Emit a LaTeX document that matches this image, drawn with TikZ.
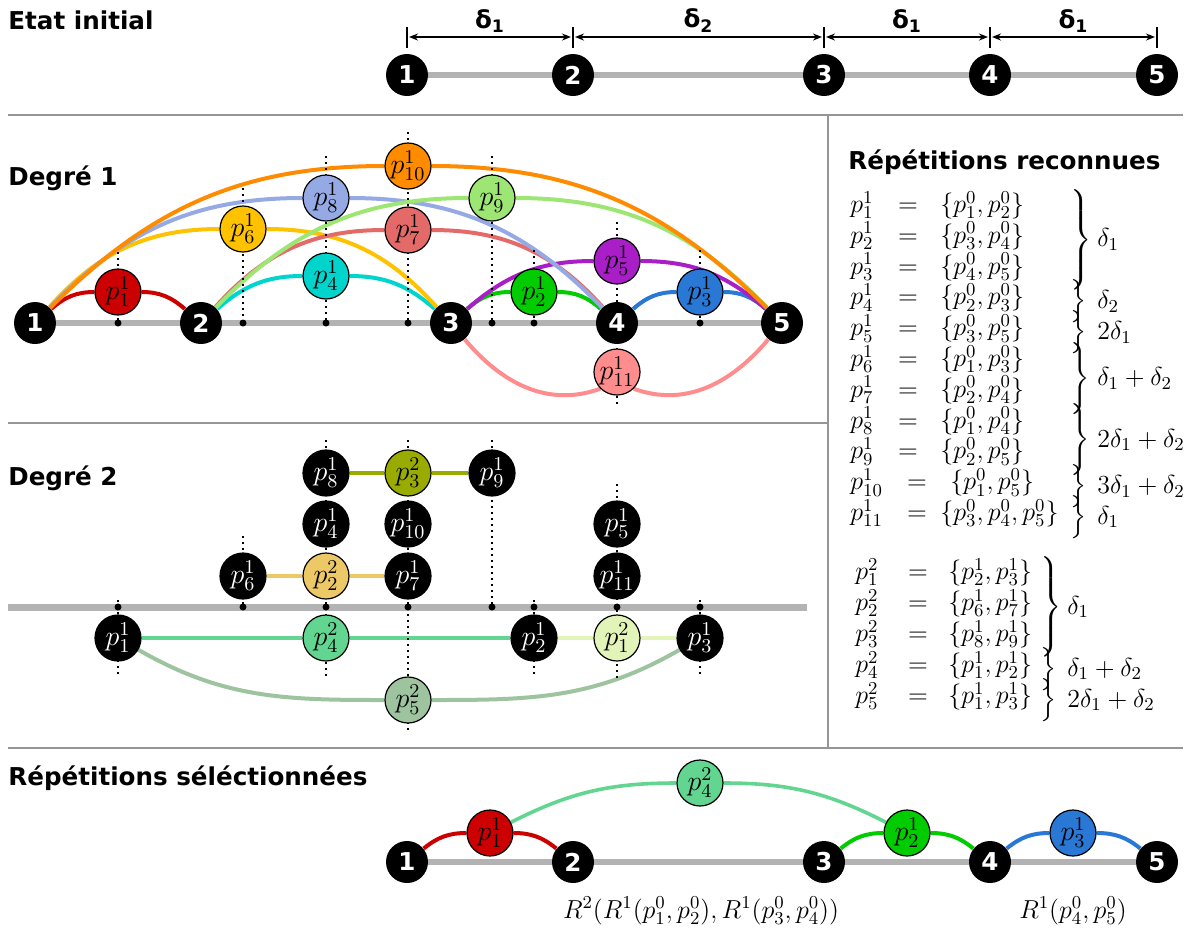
\RequirePackage{fix-cm}
\documentclass[tikz,border=0pt]{standalone}
\usepackage{amsmath}
\usepackage{fontspec}
\newfontfamily\dejavu{DejaVu Sans}
\usetikzlibrary{arrows.meta}

\pgfdeclarelayer{back}
\pgfsetlayers{back,main}

% colours of the degree-1 repetitions
\definecolor{rep1}{RGB}{204,0,0}
\definecolor{rep2}{RGB}{0,204,0}
\definecolor{rep3}{RGB}{42,120,214}
\definecolor{rep4}{RGB}{0,212,204}
\definecolor{rep5}{RGB}{170,30,200}
\definecolor{rep6}{RGB}{255,194,0}
\definecolor{rep7}{RGB}{228,106,106}
\definecolor{rep8}{RGB}{149,170,229}
\definecolor{rep9}{RGB}{157,230,115}
\definecolor{rep10}{RGB}{255,139,0}
\definecolor{rep11}{RGB}{255,141,141}
% colours of the degree-2 repetitions
\definecolor{sec1}{RGB}{227,244,185}
\definecolor{sec2}{RGB}{237,200,103}
\definecolor{sec3}{RGB}{154,171,0}
\definecolor{sec4}{RGB}{98,214,144}
\definecolor{sec5}{RGB}{157,195,159}
\definecolor{axisgray}{RGB}{179,179,179}
\definecolor{sepgray}{RGB}{150,150,150}

\delimiterfactor=1000
\delimitershortfall=0pt
\newcommand{\repbrace}[1]{$\left.\vrule height\dimexpr#1pt+3.25pt\relax depth\dimexpr#1pt-3.25pt\relax width0pt\right\}$}

\tikzset{
  base/.style={circle, fill=black, minimum size=21pt, inner sep=0pt, text=white,
    font=\dejavu\bfseries\fontsize{12.3}{14}\selectfont},
  rep/.style={circle, draw=black, line width=0.6pt, minimum size=23pt, inner sep=0pt,
    font=\fontsize{14}{16}\selectfont},
  blackrep/.style={rep, fill=black, text=white},
  title/.style={anchor=west, inner sep=0pt, font=\dejavu\bfseries\fontsize{12.3}{14}\selectfont},
  axis/.style={draw=axisgray, line width=3pt},
  arc/.style={line width=2pt},
  link/.style={line width=2pt},
  guide/.style={line width=1pt, dash pattern=on 1pt off 2pt},
  sep/.style={draw=sepgray, line width=0.8pt},
  dimline/.style={line width=0.8pt},
  dimarrow/.style={line width=0.8pt, {Stealth[length=4.5pt,width=3.5pt]}-{Stealth[length=4.5pt,width=3.5pt]},
    shorten <=1pt, shorten >=1pt},
  dimlabel/.style={above=2pt, inner sep=0pt, font=\dejavu\bfseries\fontsize{12.3}{14}\selectfont},
  eq/.style={anchor=base west, inner sep=0pt, font=\fontsize{13}{15}\selectfont},
  bracenode/.style={anchor=west, inner sep=0pt, font=\fontsize{13}{15}\selectfont},
  eqlabel/.style={anchor=west, inner sep=0pt, font=\fontsize{13}{15}\selectfont},
}

\begin{document}
\begin{tikzpicture}[x=0.5pt, y=0.5pt]
\useasboundingbox (0,0) rectangle (1191,-934);

% --- separators ---
\draw[sep] (8,-115) -- (1183,-115);
\draw[sep] (8,-748) -- (1183,-748);
\draw[sep] (8,-423) -- (828,-423);
\draw[sep] (828,-115) -- (828,-748);

% --- Etat initial ---
\node[title] (tInit) at (8,-20) {Etat initial};
\foreach \n/\x in {1/407,2/573,3/824,4/990,5/1157} {
  \node[base] (i\n) at (\x,-75) {\n};
  \coordinate (tt\n) at (\x,-27);
  \coordinate (tb\n) at (\x,-48);
  \coordinate (d\n) at (\x,-37);
  \draw[dimline] (tt\n) -- (tb\n);
}
\foreach \a/\b/\s in {1/2/1,2/3/2,3/4/1,4/5/1}
  \draw[dimarrow] (d\a) -- node[dimlabel] (lab\a) {δ\textsubscript{\s}} (d\b);
\begin{pgfonlayer}{back}
  \draw[axis] (i1) -- (i5);
\end{pgfonlayer}

% --- Degre 1 ---
\node[title] (tDeg1) at (8,-178) {Degré 1};
\foreach \n/\x in {1/35,2/201,3/451,4/617,5/782}
  \node[base] (a\n) at (\x,-323) {\n};
\foreach \r/\x/\y in {1/118/292,2/534/292,3/700/292,4/326/276,5/617/261,6/243/229,
    7/408/230,8/326/198,9/492/198,10/408/166,11/617/372}
  \node[rep, fill=rep\r] (r\r) at (\x,-\y) {$p_{\r}^1$};

\begin{pgfonlayer}{back}
  \draw[axis] (a1) -- (a5);
  \foreach \r/\a/\b/\ang in {1/1/2/41,2/3/4/41,3/4/5/41,4/2/3/41,5/3/5/41,
      6/1/3/48,7/2/4/48,8/1/4/46,9/2/5/46,10/1/5/45} {
    \pgfmathtruncatemacro{\angin}{180-\ang}
    \draw[arc, color=rep\r] (a\a) to[out=\ang, in=180] (r\r) to[out=0, in=\angin] (a\b);
  }
  \draw[arc, color=rep11] (a3) to[out=-50, in=200] (r11.225);
  \draw[arc, color=rep11] (r11.-45) to[out=-20, in=230] (a5);
  % dotted guides
  \foreach \x/\t/\b in {118/252/323,243/188/323,326/156/323,408/132/323,
      492/156/323,534/250/323,617/222/407,700/250/323}
    \draw[guide] (\x,-\t) -- (\x,-\b);
  \foreach \x in {118,243,326,408,492,534,700}
    \fill (\x,-323) circle (1.75pt);
\end{pgfonlayer}

% --- Repetitions reconnues ---
\node[title] (tRec) at (848,-162) {Répétitions reconnues};
\foreach \i/\a/\b in {1/1/2,2/3/4,3/4/5,4/2/3,5/3/5,6/1/3,7/2/4,8/1/4,9/2/5} {
  \pgfmathsetmacro{\yb}{-(212.5+30.8*(\i-1))}
  \node[eq] (lhsA\i) at (850,\yb) {$p_{\i}^1$};
  \node[eq, anchor=base] (eqA\i) at (908,\yb) {$=$};
  \node[eq] (setA\i) at (940,\yb) {$\{p_{\a}^0,p_{\b}^0\}$};
}
\node[eq] (lhsA10) at (850,-489.7) {$p_{10}^1$};
\node[eq, anchor=base] (eqA10) at (917,-489.7) {$=$};
\node[eq] (setA10) at (950,-489.7) {$\{p_1^0,p_5^0\}$};
\node[eq] (lhsA11) at (850,-520.5) {$p_{11}^1$};
\node[eq, anchor=base] (eqA11) at (917,-520.5) {$=$};
\node[eq] (setA11) at (940,-520.5) {$\{p_3^0,p_4^0,p_5^0\}$};
\foreach \k/\ym/\h in {1/239.8/23.1,2/301.4/7.7,3/332.2/7.7,4/378.4/15.4,
    5/440/15.4,6/486.2/7.7,7/517/7.7}
  \node[bracenode] (brA\k) at (1068,-\ym) {\repbrace{\h}};
\foreach \k/\ym/\lab in {1/239.8/{\delta_1},2/301.4/{\delta_2},3/332.2/{2\delta_1},
    4/378.4/{\delta_1+\delta_2},5/440/{2\delta_1+\delta_2},6/486.2/{3\delta_1+\delta_2},7/517/{\delta_1}}
  \node[eqlabel] (labA\k) at (1097,-\ym) {$\lab$};

\foreach \i/\a/\b in {1/2/3,2/6/7,3/8/9,4/1/2,5/1/3} {
  \pgfmathsetmacro{\yb}{-(579.5+31*(\i-1))}
  \node[eq] (lhsB\i) at (855,\yb) {$p_{\i}^2$};
  \node[eq, anchor=base] (eqB\i) at (918,\yb) {$=$};
  \node[eq] (setB\i) at (948,\yb) {$\{p_{\a}^1,p_{\b}^1\}$};
}
\foreach \k/\ym/\h in {1/607/23.25,2/669/7.75,3/700/7.75}
  \node[bracenode] (brB\k) at (1038,-\ym) {\repbrace{\h}};
\foreach \k/\ym/\lab in {1/607/{\delta_1},2/669/{\delta_1+\delta_2},3/700/{2\delta_1+\delta_2}}
  \node[eqlabel] (labB\k) at (1067,-\ym) {$\lab$};

% --- Degre 2 ---
\node[title] (tDeg2) at (8,-478) {Degré 2};
\foreach \k/\x/\y in {1/118/638,2/534/638,3/700/638,4/326/524,5/617/524,6/243/576,
    7/408/576,8/326/473,9/492/473,10/408/524,11/617/576}
  \node[blackrep] (k\k) at (\x,-\y) {$p_{\k}^1$};
\foreach \m/\x/\y in {1/617/638,2/326/576,3/408/473,4/326/638,5/408/700}
  \node[rep, fill=sec\m] (m\m) at (\x,-\y) {$p_{\m}^2$};

\begin{pgfonlayer}{back}
  \coordinate (axL) at (8,-607);
  \coordinate (axR) at (807,-607);
  \draw[axis, line width=3.5pt] (axL) -- (axR);
  \draw[link, color=sec3] (k8) -- (m3) -- (k9);
  \draw[link, color=sec2] (k6) -- (m2) -- (k7);
  \draw[link, color=sec4] (k1) -- (m4) -- (k2);
  \draw[link, color=sec1] (k2) -- (m1) -- (k3);
  \draw[link, color=sec5] (k1) to[out=-30, in=180] (m5) to[out=0, in=210] (k3);
  \foreach \x/\t/\b in {118/600/678,243/536/607,326/440/678,408/440/733,
      492/440/607,534/600/678,617/484/678,700/600/678}
    \draw[guide] (\x,-\t) -- (\x,-\b);
  \foreach \x in {118,243,326,408,492,534,617,700}
    \fill (\x,-607) circle (1.75pt);
\end{pgfonlayer}

% --- Repetitions selectionnees ---
\node[title] (tSel) at (8,-778) {Répétitions séléctionnées};
\foreach \n/\x in {1/407,2/573,3/824,4/990,5/1157}
  \node[base] (b\n) at (\x,-862) {\n};
\node[rep, fill=rep1] (s1) at (490,-833) {$p_1^1$};
\node[rep, fill=rep2] (s2) at (907,-833) {$p_2^1$};
\node[rep, fill=rep3] (s3) at (1073,-833) {$p_3^1$};
\node[rep, fill=sec4] (s4) at (700,-783) {$p_4^2$};
\begin{pgfonlayer}{back}
  \draw[axis] (b1) -- (b5);
  \draw[arc, color=rep1] (b1) to[out=39, in=180] (s1) to[out=0, in=141] (b2);
  \draw[arc, color=rep2] (b3) to[out=39, in=180] (s2) to[out=0, in=141] (b4);
  \draw[arc, color=rep3] (b4) to[out=39, in=180] (s3) to[out=0, in=141] (b5);
  \draw[arc, color=sec4, line width=1.8pt] (s1) to[out=27, in=180] (s4) to[out=0, in=153] (s2);
\end{pgfonlayer}
\node[eq, anchor=base] (rSel1) at (701,-918) {$R^2(R^1(p_1^0,p_2^0),R^1(p_3^0,p_4^0))$};
\node[eq, anchor=base] (rSel2) at (1073,-918) {$R^1(p_4^0,p_5^0)$};

\end{tikzpicture}
\end{document}
